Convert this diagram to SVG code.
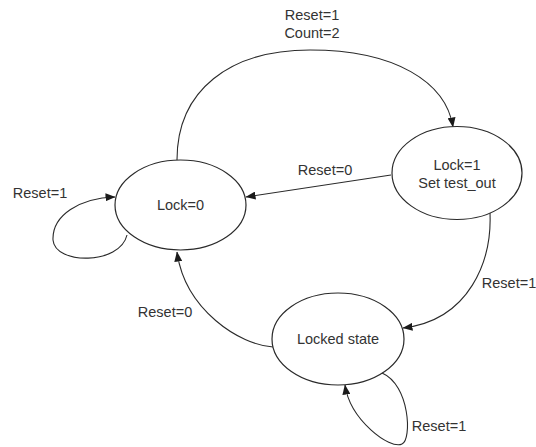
<svg xmlns="http://www.w3.org/2000/svg" width="536" height="447" viewBox="0 0 536 447">
<defs>
<marker id="arr" markerUnits="userSpaceOnUse" markerWidth="10" markerHeight="8" refX="9.5" refY="4" orient="auto">
<path d="M0,0 L10,4 L0,8 z" fill="#1a1a1a"/>
</marker>
<style>
.st{fill:#fff;stroke:#2a2a2a;stroke-width:1.2}
.t{font-family:"Liberation Sans",Arial,sans-serif;font-size:14.5px;fill:#333;text-anchor:middle}
.c{fill:none;stroke:#2a2a2a;stroke-width:1.1;marker-end:url(#arr)}
</style>
</defs>
<rect width="536" height="447" fill="#fff"/>
<g id="connectors">
<path class="c" d="M177,160 C177,90 230,50 310,50 C395,50 446,82 453,127"/>
<path class="c" d="M391,175 L246,197"/>
<path class="c" d="M490,213 C492,260 470,320 403,328"/>
<path class="c" d="M273,347 C240,345 185,310 177,252"/>
<path class="c" d="M127,235 C120,265 55,265 53,240 C52,215 80,198 115,197"/>
<path class="c" d="M382,373 C410,385 412,440 402,444 C390,450 350,420 345,385"/>
</g>
<g id="lock0">
<ellipse class="st" cx="180.5" cy="205" rx="65.5" ry="45"/>
<text class="t" x="180.5" y="210">Lock=0</text>
</g>
<g id="lock1">
<ellipse class="st" cx="457" cy="173" rx="65" ry="46.5"/>
<text class="t" x="457" y="170">Lock=1</text>
<text class="t" x="457" y="188">Set test_out</text>
</g>
<g id="locked">
<ellipse class="st" cx="338" cy="339" rx="66" ry="46"/>
<text class="t" x="338" y="344">Locked state</text>
</g>
<g id="labels">
<text class="t" x="312" y="20">Reset=1</text>
<text class="t" x="312" y="38">Count=2</text>
<text class="t" x="325" y="175">Reset=0</text>
<text class="t" x="40" y="198">Reset=1</text>
<text class="t" x="165" y="317">Reset=0</text>
<text class="t" x="509" y="288">Reset=1</text>
<text class="t" x="439" y="431">Reset=1</text>
</g>
</svg>
